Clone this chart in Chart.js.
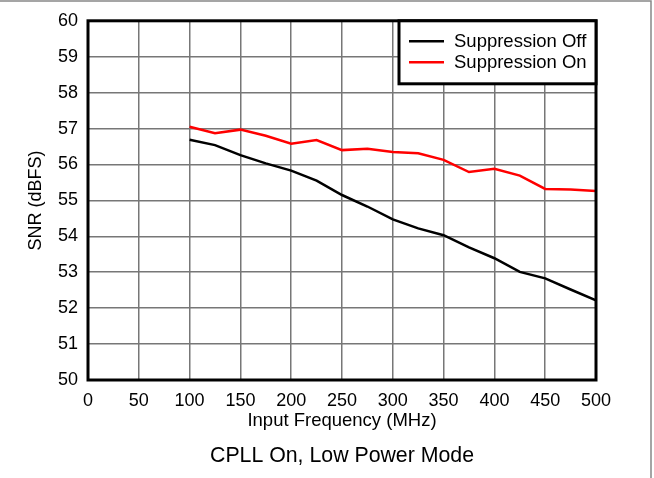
<!DOCTYPE html>
<html>
<head>
<meta charset="utf-8">
<script src="https://cdn.jsdelivr.net/npm/chart.js@4/dist/chart.umd.min.js"></script>
<style>
  body { margin: 0; background: #fff; }
  #wrap { width: 654px; height: 478px; }
</style>
</head>
<body>
<div id="wrap"><canvas id="snrChart" width="654" height="478"></canvas></div>
<script>
// input frequency (MHz)
const freqs = [100, 125, 150, 175, 200, 225, 250, 275, 300, 325, 350, 375, 400, 425, 450, 475, 500];
// SNR (dBFS)
const snrOff = [56.69, 56.54, 56.26, 56.03, 55.83, 55.55, 55.15, 54.83, 54.47, 54.22, 54.03, 53.69, 53.39, 53.01, 52.83, 52.52, 52.22];
const snrOn = [57.05, 56.87, 56.97, 56.80, 56.58, 56.68, 56.40, 56.44, 56.35, 56.31, 56.13, 55.79, 55.88, 55.69, 55.32, 55.30, 55.26];
const seriesNames = ['Suppression Off', 'Suppression On'];
const seriesColors = ['#000000', '#ff0000'];
const caption = 'CPLL On, Low Power Mode';

const FONT = 'Arial, "Liberation Sans", sans-serif';

// frame, legend box, caption and outer border
const framePlugin = {
    id: 'framePlugin',
    afterDatasetsDraw(chart) {
        const { ctx, chartArea: a } = chart;
        ctx.save();
        ctx.strokeStyle = '#000';
        ctx.lineWidth = 3;
        ctx.strokeRect(a.left, a.top, a.right - a.left, a.bottom - a.top);

        // legend
        const lx = 399, ly = a.top, lw = a.right - 399, lh = 63;
        ctx.fillStyle = '#fff';
        ctx.fillRect(lx, ly, lw, lh);
        ctx.strokeRect(lx, ly, lw, lh);
        ctx.font = '18.5px ' + FONT;
        ctx.textBaseline = 'middle';
        ctx.textAlign = 'left';
        chart.data.datasets.forEach((ds, i) => {
            const y = ly + 20.5 + i * 21;
            ctx.strokeStyle = ds.borderColor;
            ctx.lineWidth = 2.5;
            ctx.beginPath();
            ctx.moveTo(409, y);
            ctx.lineTo(444, y);
            ctx.stroke();
            ctx.fillStyle = '#000';
            ctx.fillText(ds.label, 454, y + 1);
        });

        // caption under the axis title
        ctx.font = '21.3px ' + FONT;
        ctx.textAlign = 'center';
        ctx.fillStyle = '#000';
        ctx.fillText(caption, (a.left + a.right) / 2, 456);

        // outer gray border (top and right)
        ctx.strokeStyle = '#888';
        ctx.lineWidth = 1.5;
        ctx.beginPath();
        ctx.moveTo(0, 1);
        ctx.lineTo(651, 1);
        ctx.lineTo(651, 478);
        ctx.stroke();
        ctx.restore();
    }
};

new Chart('snrChart', {
    type: 'line',
    data: {
        datasets: [
            {
                label: seriesNames[0],
                data: freqs.map((f, i) => ({ x: f, y: snrOff[i] })),
                borderColor: seriesColors[0],
                borderWidth: 2.5,
                pointRadius: 0,
                tension: 0
            },
            {
                label: seriesNames[1],
                data: freqs.map((f, i) => ({ x: f, y: snrOn[i] })),
                borderColor: seriesColors[1],
                borderWidth: 2.5,
                pointRadius: 0,
                tension: 0
            }
        ]
    },
    options: {
        responsive: false,
        animation: false,
        layout: { padding: { top: 20, right: 58, left: 0, bottom: 45.2 } },
        plugins: {
            legend: { display: false },
            tooltip: { enabled: false },
            title: { display: false }
        },
        scales: {
            x: {
                type: 'linear',
                min: 0,
                max: 500,
                afterFit: s => { s.height = 52.8; },
                ticks: { stepSize: 50, color: '#000', padding: 10, font: { family: FONT, size: 18 } },
                grid: { color: '#777', lineWidth: 1.5, drawTicks: false },
                border: { display: false },
                title: {
                    display: true,
                    text: 'Input Frequency (MHz)',
                    color: '#000',
                    font: { family: FONT, size: 18.5 },
                    padding: { top: 0, bottom: 1 }
                }
            },
            y: {
                min: 50,
                max: 60,
                afterFit: s => { s.width = 88; },
                ticks: { stepSize: 1, color: '#000', padding: 10, font: { family: FONT, size: 18 } },
                grid: { color: '#777', lineWidth: 1.5, drawTicks: false },
                border: { display: false },
                title: {
                    display: true,
                    text: 'SNR (dBFS)',
                    color: '#000',
                    font: { family: FONT, size: 18 },
                    padding: { top: 25, bottom: 0 }
                }
            }
        }
    },
    plugins: [framePlugin]
});
</script>
</body>
</html>
